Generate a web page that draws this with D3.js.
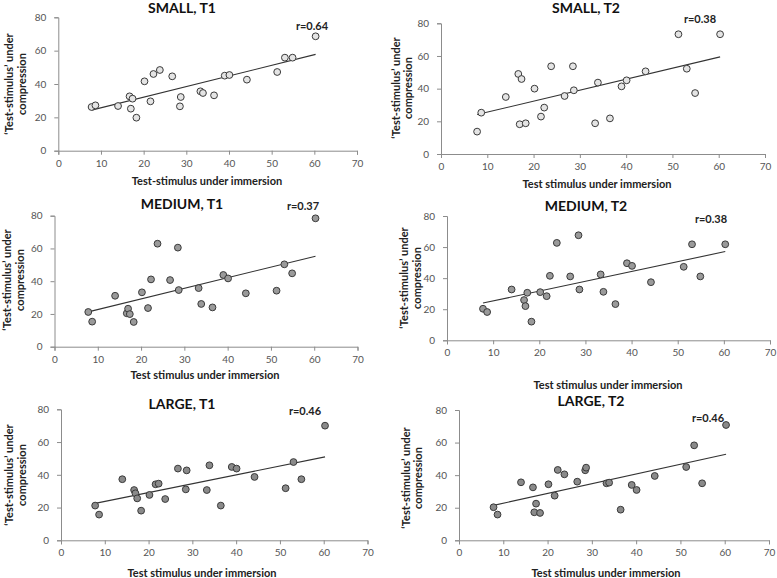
<!DOCTYPE html>
<html>
<head>
<meta charset="utf-8">
<script src="https://cdn.jsdelivr.net/npm/d3@7"></script>
<style>
  html, body { margin: 0; padding: 0; background: #fff; }
  svg { display: block; font-family: Lato, "Open Sans", sans-serif; }
</style>
</head>
<body>
<svg id="chart" width="777" height="578"></svg>
<script>
// ---- data ----
const immersion = [7.8, 8.7, 14.0, 16.7, 17.0, 17.4, 18.3, 20.2, 21.6, 22.3, 23.8, 26.7, 28.5, 28.7, 33.3, 33.9, 36.5, 39.0, 40.1, 44.2, 51.3, 53.1, 54.9, 60.3];
const smallT1  = [26.2, 27.2, 26.8, 32.6, 25.2, 31.2, 19.8, 41.6, 29.6, 46.0, 48.4, 44.6, 26.6, 32.2, 35.6, 34.6, 33.2, 45.0, 45.4, 42.6, 47.2, 55.8, 55.8, 68.6];
const smallT2  = [13.7, 25.3, 34.9, 49.0, 18.2, 45.9, 18.8, 40.0, 22.9, 28.4, 53.7, 35.5, 53.7, 39.0, 18.8, 43.7, 21.8, 41.4, 45.1, 50.6, 73.3, 52.2, 37.3, 73.3];
const mediumT1 = [21.2, 15.3, 31.1, 20.4, 23.2, 19.9, 15.1, 33.2, 23.6, 41.1, 62.9, 40.7, 60.5, 34.6, 35.8, 26.1, 24.0, 43.8, 41.7, 32.6, 34.2, 50.3, 44.8, 78.4];
const mediumT2 = [20.3, 18.2, 32.7, 25.9, 22.0, 30.6, 12.0, 31.0, 28.4, 41.5, 62.7, 41.1, 67.6, 32.7, 42.4, 31.2, 23.3, 49.6, 47.9, 37.4, 47.3, 61.8, 41.1, 61.8];
const largeT1  = [21.2, 15.7, 37.3, 30.7, 28.7, 25.6, 18.1, 27.7, 34.2, 34.6, 25.2, 43.8, 31.1, 42.7, 30.7, 45.8, 21.2, 44.8, 43.8, 38.7, 31.8, 47.8, 37.3, 70.0];
const largeT2  = [20.3, 15.8, 35.6, 32.5, 17.2, 22.5, 16.8, 34.4, 27.4, 43.2, 40.5, 36.0, 43.0, 44.6, 35.0, 35.4, 18.8, 34.0, 30.9, 39.5, 45.0, 58.3, 35.0, 70.8];
const titles   = ["SMALL, T1", "SMALL, T2", "MEDIUM, T1", "MEDIUM, T2", "LARGE, T1", "LARGE, T2"];
const rLabels  = ["r=0.64", "r=0.38", "r=0.37", "r=0.38", "r=0.46", "r=0.46"];
const xTitles  = ["Test-stimulus under immersion", "Test stimulus under immersion", "Test stimulus under immersion",
                  "Test stimulus under immersion", "Test stimulus under immersion", "Test stimulus under immersion"];
const yTitleLines = ["\u2018Test-stimulus\u2019 under", "compression"];
const xTicks = [0, 10, 20, 30, 40, 50, 60, 70];
const yTicks = [0, 20, 40, 60, 80];
const seriesList = [smallT1, smallT2, mediumT1, mediumT2, largeT1, largeT2];

// ---- layout (pixel geometry per panel) ----
const layout = [
  { x0: 58.3, x1: 357.0, y0: 150.7, y1: 17.3, fill: "#e4e4e4", title: [182, 7],   r: [312, 25],  xt: [207, 180], yt: [8.5, 21, 84] },
  { x0: 441,  x1: 765,   y0: 154,   y1: 23.3, fill: "#e4e4e4", title: [586, 7],   r: [700, 18.5], xt: [597, 183], yt: [395, 407, 88] },
  { x0: 54.5, x1: 357.5, y0: 346.7, y1: 215.7,fill: "#9a9a9a", title: [182, 203], r: [303, 205], xt: [205, 374], yt: [6, 19, 280] },
  { x0: 447,  x1: 770,   y0: 340.3, y1: 216,  fill: "#9a9a9a", title: [586, 205], r: [711, 218], xt: [608, 384], yt: [403, 416, 278] },
  { x0: 61,   x1: 367.5, y0: 540.3, y1: 409.3,fill: "#8a8a8a", title: [182, 403], r: [305, 410], xt: [202, 572], yt: [8.5, 21, 475] },
  { x0: 459,  x1: 769,   y0: 540.3, y1: 410,  fill: "#8a8a8a", title: [591, 400], r: [708, 417], xt: [606, 572], yt: [405, 417, 478] }
];

const svg = d3.select("#chart");
const axisColor = "#8c8c8c";
const labelColor = "#555";

seriesList.forEach((ys, i) => {
  const L = layout[i];
  const x = d3.scaleLinear().domain([0, 70]).range([L.x0, L.x1]);
  const y = d3.scaleLinear().domain([0, 80]).range([L.y0, L.y1]);
  const g = svg.append("g");

  // axes
  const xAxis = d3.axisBottom(x).tickValues(xTicks).tickSize(4).tickPadding(5);
  const yAxis = d3.axisLeft(y).tickValues(yTicks).tickSize(4).tickPadding(8);
  const gx = g.append("g").attr("transform", `translate(0,${L.y0})`).call(xAxis);
  const gy = g.append("g").attr("transform", `translate(${L.x0},0)`).call(yAxis);
  [gx, gy].forEach(a => {
    a.select(".domain").attr("stroke", axisColor).attr("stroke-width", 1);
    a.selectAll(".tick line").attr("stroke", axisColor);
    a.selectAll(".tick text").attr("fill", labelColor)
      .style("font-family", "Lato, sans-serif").style("font-size", "10px");
  });

  // regression line from the data
  const n = immersion.length;
  const mx = d3.mean(immersion), my = d3.mean(ys);
  let sxy = 0, sxx = 0;
  for (let k = 0; k < n; k++) { sxy += (immersion[k] - mx) * (ys[k] - my); sxx += (immersion[k] - mx) ** 2; }
  const b = sxy / sxx, a0 = my - b * mx;
  const ext = d3.extent(immersion);
  g.append("line")
    .attr("x1", x(ext[0])).attr("y1", y(a0 + b * ext[0]))
    .attr("x2", x(ext[1])).attr("y2", y(a0 + b * ext[1]))
    .attr("stroke", "#333").attr("stroke-width", 1.1);

  // points
  g.selectAll("circle").data(immersion).join("circle")
    .attr("cx", d => x(d)).attr("cy", (d, k) => y(ys[k]))
    .attr("r", 3.4)
    .attr("fill", L.fill).attr("stroke", "#3a3a3a").attr("stroke-width", 1);

  // texts
  g.append("text").attr("x", L.title[0]).attr("y", L.title[1])
    .attr("text-anchor", "middle").attr("dominant-baseline", "central")
    .attr("font-weight", "bold").attr("font-size", 14).attr("fill", "#111")
    .text(titles[i]);
  g.append("text").attr("x", L.r[0]).attr("y", L.r[1])
    .attr("text-anchor", "middle").attr("dominant-baseline", "central")
    .attr("font-weight", "bold").attr("font-size", 11).attr("fill", "#222")
    .text(rLabels[i]);
  g.append("text").attr("x", L.xt[0]).attr("y", L.xt[1])
    .attr("text-anchor", "middle").attr("dominant-baseline", "central")
    .attr("font-weight", "bold").attr("font-size", 11).attr("fill", "#222")
    .text(xTitles[i]);
  yTitleLines.forEach((t, j) => {
    g.append("text")
      .attr("transform", `translate(${L.yt[j]},${L.yt[2]}) rotate(-90)`)
      .attr("text-anchor", "middle").attr("dominant-baseline", "central")
      .attr("font-weight", "bold").attr("font-size", 11).attr("fill", "#222")
      .text(t);
  });
});
</script>
</body>
</html>
